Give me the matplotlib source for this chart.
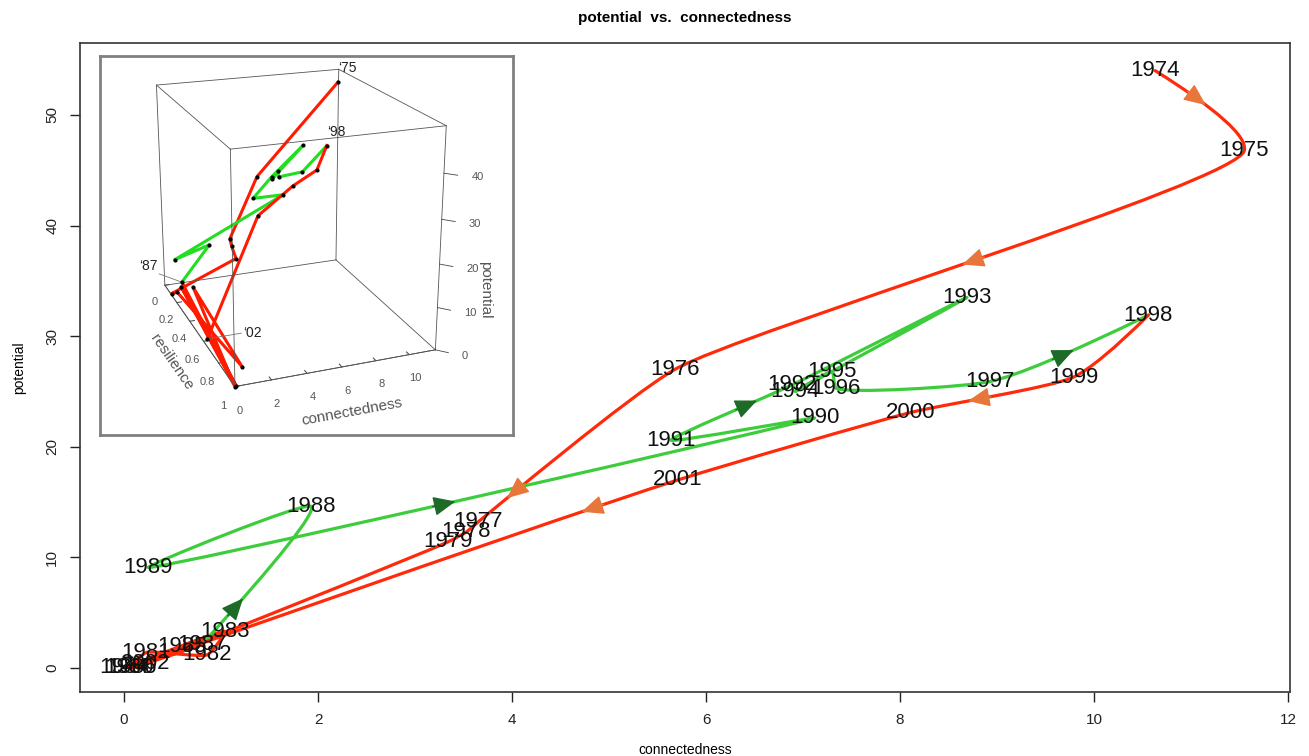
import numpy as np
import matplotlib
matplotlib.use("Agg")
import matplotlib.pyplot as plt
from matplotlib.path import Path
from matplotlib.patches import PathPatch, FancyArrowPatch
from mpl_toolkits.mplot3d import proj3d

plt.rcParams["font.family"] = ["Liberation Sans", "DejaVu Sans"]

# ---- data ----
years = list(range(1974, 2003))
connectedness = [10.63, 11.55, 5.68, 3.65, 3.53, 3.34, 0.05, 0.23, 0.86, 1.04,
                 0.00, 0.60, 0.08, 0.80, 1.93, 0.25, 7.12, 5.64, 6.89, 8.69,
                 6.92, 7.30, 7.34, 8.93, 10.56, 9.79, 8.11, 5.71, 0.22]
potential = [54.0, 46.8, 27.0, 13.2, 12.3, 11.4, 0.0, 1.4, 1.2, 3.3,
             0.0, 1.9, 0.0, 2.1, 14.6, 9.1, 22.6, 20.6, 25.6, 33.5,
             25.0, 26.8, 25.3, 25.9, 31.9, 26.3, 23.1, 17.0, 0.45]
resilience = [0.00, 0.00, 0.10, 0.15, 0.20, 0.30, 0.10, 0.15, 0.90, 0.20,
              1.00, 0.12, 1.00, 0.08, 0.25, 0.12, 0.15, 0.05, 0.05, 0.10,
              0.05, 0.05, 0.05, 0.05, 0.05, 0.07, 0.08, 0.10, 0.60]

# phases: (first year, last year, colour)
phases = [(1974, 1987, "#ff2a0a"), (1987, 1998, "#3ccc3c"), (1998, 2002, "#ff2a0a")]

# direction arrows: (segment start year, fraction of the segment's length, colour)
arrows = [(1974, 0.50, "#e8763a"), (1975, 0.50, "#e8763a"), (1976, 0.85, "#e8763a"),
          (1999, 0.65, "#e8763a"), (2001, 0.18, "#e8763a"),
          (1987, 0.35, "#1d6b27"), (1989, 0.46, "#1d6b27"),
          (1991, 0.71, "#1d6b27"), (1997, 0.52, "#1d6b27")]

inset_labels = {1975: "\u201875", 1998: "\u201898", 1987: "\u201887", 2002: "\u201802"}
inset_zticks = [0, 10, 20, 30, 40]

XMIN, XMAX, YMIN, YMAX = -0.454, 12.02, -2.17, 56.5
ASPECT = 0.114  # potential units -> connectedness units on screen
TENSION = 0.5


def spline_segments(xs, ys, alpha=0.5):
    """Centripetal Catmull-Rom through the points, as cubic Bezier segments."""
    pts = np.column_stack([xs, np.asarray(ys) * ASPECT])
    n = len(pts)
    raw = []
    for i in range(n - 1):
        p1, p2 = pts[i], pts[i + 1]
        d1 = np.linalg.norm(p2 - p1) ** alpha + 1e-9
        m1 = m2 = None
        if i > 0:
            p0 = pts[i - 1]
            d0 = np.linalg.norm(p1 - p0) ** alpha + 1e-9
            m1 = TENSION * d1 * ((p1 - p0) / d0 - (p2 - p0) / (d0 + d1) + (p2 - p1) / d1)
        if i < n - 2:
            p3 = pts[i + 2]
            d2 = np.linalg.norm(p3 - p2) ** alpha + 1e-9
            m2 = TENSION * d1 * ((p2 - p1) / d1 - (p3 - p1) / (d1 + d2) + (p3 - p2) / d2)
        chord = p2 - p1
        if m1 is None and m2 is None:
            m1 = m2 = chord
        elif m1 is None:
            m1 = 2 * chord - m2
        elif m2 is None:
            m2 = 2 * chord - m1
        seg = [p1, p1 + m1 / 3, p2 - m2 / 3, p2]
        raw.append([np.array([q[0], q[1] / ASPECT]) for q in seg])
    return raw


def bez(seg, t):
    a, b, c, d = seg
    return (1 - t) ** 3 * a + 3 * (1 - t) ** 2 * t * b + 3 * (1 - t) * t ** 2 * c + t ** 3 * d


def t_at_fraction(seg, f):
    ts = np.linspace(0, 1, 400)
    pts = np.array([bez(seg, t) for t in ts])
    pts[:, 1] *= ASPECT
    cum = np.concatenate([[0], np.cumsum(np.linalg.norm(np.diff(pts, axis=0), axis=1))])
    return float(np.interp(f * cum[-1], cum, ts))


yr = np.array(years)
cx = np.array(connectedness)
py = np.array(potential)

fig = plt.figure(figsize=(13.09, 7.56), dpi=100)
ax = fig.add_axes([80 / 1309, 64 / 756, 1210 / 1309, 649 / 756])

seg_lookup = {}
for y0, y1, col in phases:
    m = (yr >= y0) & (yr <= y1)
    segs = spline_segments(cx[m], py[m])
    verts = [segs[0][0]]
    codes = [Path.MOVETO]
    for s in segs:
        verts += [s[1], s[2], s[3]]
        codes += [Path.CURVE4] * 3
    ax.add_patch(PathPatch(Path(verts, codes), fill=False, edgecolor=col, lw=2.3,
                           capstyle="round", joinstyle="round", zorder=2))
    for k, yy in enumerate(yr[m][:-1]):
        seg_lookup[yy] = segs[k]

for y0, f, col in arrows:
    s = seg_lookup[y0]
    t = t_at_fraction(s, f)
    tip = bez(s, t)
    back = bez(s, max(t - 0.01, 0))
    d = np.array([tip[0] - back[0], (tip[1] - back[1]) * ASPECT])
    d = d / np.linalg.norm(d) * 0.24
    tail = (tip[0] - d[0], tip[1] - d[1] / ASPECT)
    ax.add_patch(FancyArrowPatch(tail, tuple(tip),
                                 arrowstyle="-|>,head_length=1.25,head_width=0.55",
                                 mutation_scale=11, color=col, lw=1.0,
                                 shrinkA=0, shrinkB=0, zorder=3))

for y, x, p in zip(years, connectedness, potential):
    ax.text(x, p, str(y), fontsize=16, ha="center", va="center", color="#111111", zorder=4)

ax.set_xlim(XMIN, XMAX)
ax.set_ylim(YMIN, YMAX)
ax.set_xticks(range(0, 13, 2))
ax.set_yticks(range(0, 51, 10))
ax.tick_params(direction="out", length=7, width=1, labelsize=11, colors="#222222", pad=8)
for lab in ax.get_yticklabels():
    lab.set_rotation(90)
    lab.set_va("center")
for s in ax.spines.values():
    s.set_linewidth(1.2)
    s.set_color("#333333")
ax.set_xlabel("connectedness", fontsize=10, labelpad=12)
ax.set_ylabel("potential", fontsize=10, labelpad=14)
fig.text(0.5233, 0.976, "potential  vs.  connectedness", ha="center", va="center",
         fontsize=11, fontweight="bold")

# ---- inset: 3-D view with resilience ----
frame = fig.add_axes([100 / 1309, 321 / 756, 413 / 1309, 379 / 756], zorder=5)
frame.set_xticks([])
frame.set_yticks([])
frame.set_xlim(100, 513)
frame.set_ylim(435, 56)
for s in frame.spines.values():
    s.set_color("#808080")
    s.set_linewidth(2)
frame.text(485, 290, "potential", fontsize=11, color="#555555", rotation=-90,
           ha="center", va="center")

ax3 = fig.add_axes([80 / 1309, 348 / 756, 413 / 1309, 379 / 756], projection="3d", zorder=6)
ax3.patch.set_alpha(0)
ax3.set_proj_type("persp", focal_length=0.55)
ax3.view_init(elev=20, azim=-111)
ax3.set_box_aspect((1, 1.2, 1.1), zoom=1.0)
ax3.grid(False)
for a in (ax3.xaxis, ax3.yaxis, ax3.zaxis):
    a.set_pane_color((1, 1, 1, 0))
    a.line.set_color("#444444")
    a.line.set_linewidth(0.6)
    a._axinfo["tick"]["inward_factor"] = 0
    a._axinfo["tick"]["outward_factor"] = 0.3
    a._axinfo["tick"]["color"] = "#444444"

cmax, pmax = 11.6, 50
rr = np.array(resilience)
w = 1 - rr  # resilience axis runs from 1 (front) to 0 (back)
vis = yr >= 1975
for y0, y1, col in phases:
    m = (yr >= max(y0, 1975)) & (yr <= y1)
    ax3.plot(cx[m], w[m], py[m], color="#ff1a00" if col != "#3ccc3c" else "#22dd22", lw=2.2)
ax3.scatter(cx[vis], w[vis], py[vis], s=4, color="black", depthshade=False)

edges = [((0, cmax), (0, 0), (0, 0)), ((0, cmax), (1, 1), (0, 0)), ((0, 0), (0, 1), (0, 0)),
         ((cmax, cmax), (0, 1), (0, 0)), ((0, cmax), (0, 0), (pmax, pmax)),
         ((0, cmax), (1, 1), (pmax, pmax)), ((0, 0), (0, 1), (pmax, pmax)),
         ((cmax, cmax), (0, 1), (pmax, pmax)), ((0, 0), (0, 0), (0, pmax)),
         ((cmax, cmax), (0, 0), (0, pmax)), ((0, 0), (1, 1), (0, pmax)),
         ((cmax, cmax), (1, 1), (0, pmax))]
for ex, ey, ez in edges:
    ax3.plot(ex, ey, ez, color="#555555", lw=0.6)

for z in inset_zticks:
    ax3.plot([cmax, cmax + 0.5], [0, -0.04], [z, z], color="#444444", lw=0.6)

for y, lab in inset_labels.items():
    i = years.index(y)
    if y == 1987:
        ax3.plot([cx[i], cx[i] - 1.4], [w[i], w[i]], [py[i], py[i] + 3], color="#777777", lw=0.6)
    elif y == 2002:
        ax3.plot([cx[i], cx[i] + 2.0], [w[i], w[i]], [py[i], py[i]], color="#777777", lw=0.6)

ax3.set_xlim(0, cmax)
ax3.set_ylim(0, 1)
ax3.set_zlim(0, pmax)
ax3.set_xticks(range(0, 11, 2))
ax3.set_yticks([1 - v for v in (0, 0.2, 0.4, 0.6, 0.8, 1)])
ax3.set_yticklabels(["0", "0.2", "0.4", "0.6", "0.8", "1"])
ax3.set_zticks([])
ax3.zaxis.line.set_visible(False)
ax3.tick_params(labelsize=8, colors="#555555", pad=0)
ax3.set_xlabel("connectedness", fontsize=11, color="#555555", labelpad=-2)
ax3.set_ylabel("resilience", fontsize=11, color="#555555", labelpad=-2)

# place the 3-D annotations as plain 2-D texts at their projected positions
fig.canvas.draw()
M = ax3.get_proj()


def put(x, y, z, s, **kw):
    u, v, _ = proj3d.proj_transform(x, y, z, M)
    ax3.text2D(u, v, s, transform=ax3.transData, **kw)


for z in inset_zticks:
    put(cmax + 1.0, -0.08, z, str(z), fontsize=8, color="#555555", va="center")
for y, lab in inset_labels.items():
    i = years.index(y)
    if y == 1987:
        put(cx[i] - 1.5, w[i], py[i] + 4, lab, fontsize=10, color="#222222", ha="right")
    elif y == 2002:
        put(cx[i] + 2.1, w[i], py[i], lab, fontsize=10, color="#222222", va="center")
    else:
        put(cx[i], w[i], py[i] + 2.5, lab, fontsize=10, color="#222222")

fig.savefig("out.png", dpi=100)
